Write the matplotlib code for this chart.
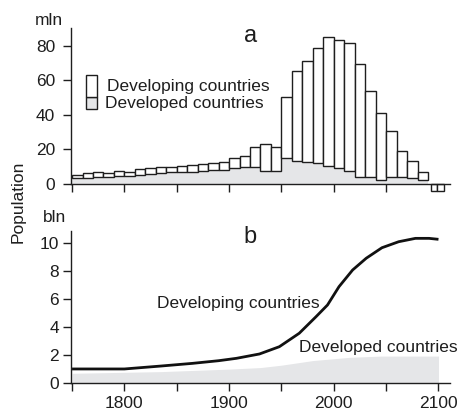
import matplotlib
matplotlib.use('Agg')
import matplotlib.pyplot as plt
from matplotlib.patches import Rectangle

## 1. Data
# panel a: population increase per decade, mln
decades = [1750, 1760, 1770, 1780, 1790, 1800, 1810, 1820, 1830, 1840,
           1850, 1860, 1870, 1880, 1890, 1900, 1910, 1920, 1930, 1940,
           1950, 1960, 1970, 1980, 1990, 2000, 2010, 2020, 2030, 2040,
           2050, 2060, 2070, 2080]
totalIncrease = [5.2, 6.6, 6.8, 6.2, 7.5, 7.1, 8.5, 9.1, 9.7, 10.0,
                 10.6, 11.2, 11.6, 12.2, 12.6, 15.2, 16.2, 21.6, 23.0, 21.6,
                 50.6, 65.7, 71.5, 79.0, 85.4, 83.5, 81.6, 69.6, 54.1, 41.3,
                 30.9, 19.3, 13.5, 6.8]
developedIncrease = [3.3, 3.7, 3.9, 4.2, 4.8, 4.8, 5.2, 5.6, 6.6, 7.1,
                     7.1, 7.1, 7.7, 8.3, 8.3, 9.1, 9.7, 10.0, 7.7, 7.7,
                     15.0, 13.5, 12.6, 12.0, 10.4, 9.1, 7.7, 4.2, 4.2, 2.3,
                     4.2, 4.2, 3.3, 2.3]
negativeYears = [2093, 2099]
negativeIncrease = [-4.0, -4.0]

# panel b: population, bln
devingYears = [1750, 1800, 1835, 1865, 1890, 1907, 1929, 1948, 1967, 1983,
               1994, 2005, 2018, 2031, 2046, 2062, 2078, 2091, 2100]
devingPop = [0.98, 0.98, 1.19, 1.38, 1.57, 1.74, 2.05, 2.57, 3.53, 4.71,
             5.55, 6.86, 8.05, 8.89, 9.64, 10.07, 10.31, 10.31, 10.24]
devedYears = [1750, 1835, 1900, 1930, 1950, 1980, 2015, 2045, 2100]
devedPop = [0.67, 0.79, 0.97, 1.08, 1.25, 1.58, 1.81, 1.90, 1.90]

## 2. Style
plt.rcParams['font.family'] = ['Liberation Sans', 'DejaVu Sans']
ink = '#1e1e1e'
grey = '#e5e6e8'
plt.rcParams['text.color'] = ink
plt.rcParams['xtick.color'] = ink
plt.rcParams['ytick.color'] = ink

fig = plt.figure(figsize=(4.62, 4.11), dpi=100)
ax1 = fig.add_axes([0.1537, 0.5314, 0.8203, 0.4005])
ax2 = fig.add_axes([0.1537, 0.0689, 0.8203, 0.3698])

for ax in (ax1, ax2):
    ax.set_xlim(1749, 2111)
    ax.spines['top'].set_visible(False)
    ax.spines['right'].set_visible(False)
    for s in ('left', 'bottom'):
        ax.spines[s].set_linewidth(1.0)
        ax.spines[s].set_color(ink)
    ax.tick_params(which='both', direction='out', length=5.5, width=1.0, labelsize=12.5)

## 3. Panel a: bars
developing = [t - d for t, d in zip(totalIncrease, developedIncrease)]
edges = decades + [decades[-1] + 10]
ax1.fill_between(edges, developedIncrease + [developedIncrease[-1]], step='post',
                 color=grey, lw=0, zorder=1)
ax1.bar(decades, developing, width=10, bottom=developedIncrease, align='edge',
        color='white', edgecolor=ink, linewidth=1.0, zorder=2)
ax1.bar(negativeYears, negativeIncrease, width=6, align='edge',
        color='white', edgecolor=ink, linewidth=1.0, zorder=2)

ax1.set_ylim(-5, 90.4)
ax1.spines['bottom'].set_position(('data', 0))
ax1.spines['left'].set_bounds(0, 90.4)
ax1.set_yticks([0, 20, 40, 60, 80])
ax1.set_xticks([1800, 1900, 2000])
ax1.set_xticks([1750, 1850, 1950, 2050], minor=True)
ax1.tick_params(axis='x', labelbottom=False)
ax1.tick_params(axis='y', pad=6)

# legend box
fig.add_artist(Rectangle((0.186, 0.7348), 0.0238, 0.0285, transform=fig.transFigure,
                         facecolor=grey, edgecolor=ink, lw=1.0))
fig.add_artist(Rectangle((0.186, 0.7633), 0.0238, 0.0543, transform=fig.transFigure,
                         facecolor='white', edgecolor=ink, lw=1.0))
fig.text(0.231, 0.7793, 'Developing countries', fontsize=12.5, va='baseline')
fig.text(0.227, 0.7365, 'Developed countries', fontsize=12.5, va='baseline')
fig.text(0.542, 0.8985, 'a', fontsize=17, ha='center', va='baseline')
fig.text(0.0758, 0.9392, 'mln', fontsize=12.5, va='baseline')

## 4. Panel b: curves
ax2.fill_between(devedYears, devedPop, color=grey, lw=0, zorder=1)
ax2.plot(devingYears, devingPop, color='#111111', lw=2.0, zorder=3,
         solid_capstyle='butt')
ax2.set_ylim(0, 10.857)
ax2.set_yticks([0, 2, 4, 6, 8, 10])
ax2.set_xticks([1800, 1900, 2000, 2100])
ax2.set_xticks([1750, 1850, 1950, 2050], minor=True)
ax2.tick_params(axis='y', pad=3)
ax2.tick_params(axis='x', pad=4)

ax2.text(1831, 5.3, 'Developing countries', fontsize=12.5, va='baseline')
ax2.text(1966.5, 2.21, 'Developed countries', fontsize=12.5, va='baseline')
fig.text(0.542, 0.4088, 'b', fontsize=17, ha='center', va='baseline')
fig.text(0.093, 0.4606, 'bln', fontsize=12.5, va='baseline')

fig.text(0.039, 0.5085, 'Population', fontsize=12.5, rotation=90,
         ha='center', va='center')

## 5. Save
plt.savefig('out.png', dpi=100)
